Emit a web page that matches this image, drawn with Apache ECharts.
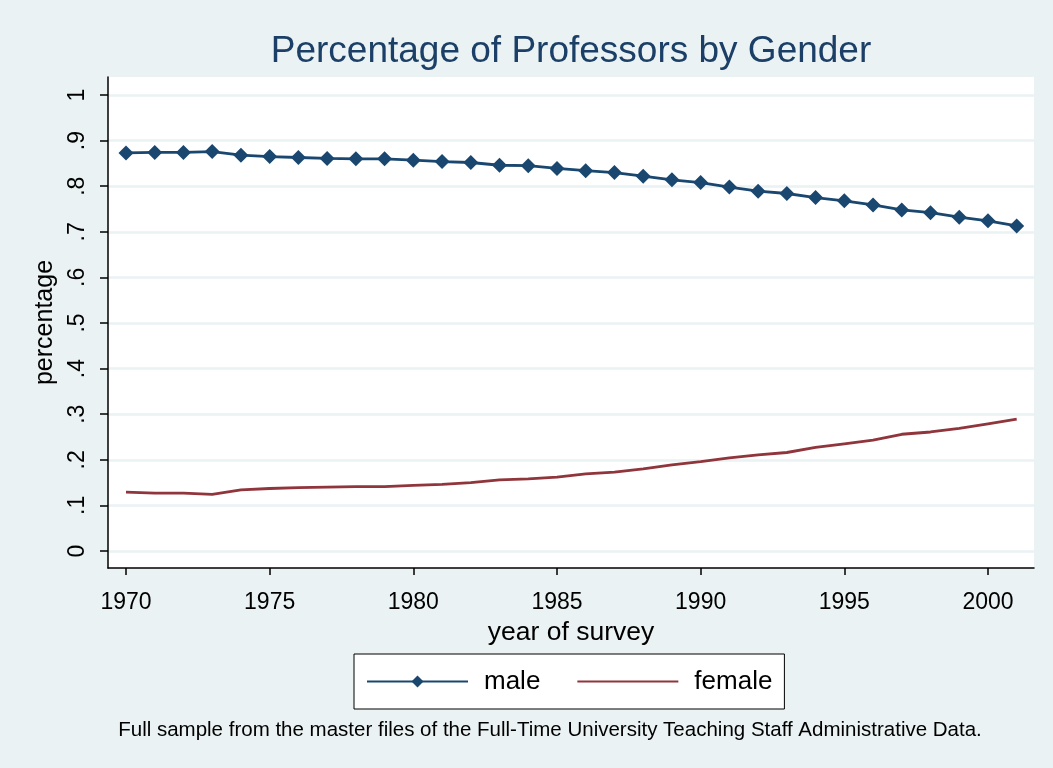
<!DOCTYPE html>
<html>
<head>
<meta charset="utf-8">
<title>Percentage of Professors by Gender</title>
<script src="https://cdn.jsdelivr.net/npm/echarts@6/dist/echarts.min.js"></script>
<style>
  html, body { margin: 0; padding: 0; background: #eaf2f3; }
  #chart { width: 1053px; height: 768px; }
</style>
</head>
<body>
<div id="chart"></div>
<script>
// survey years
const years = [1970, 1971, 1972, 1973, 1974, 1975, 1976, 1977, 1978, 1979,
  1980, 1981, 1982, 1983, 1984, 1985, 1986, 1987, 1988, 1989,
  1990, 1991, 1992, 1993, 1994, 1995, 1996, 1997, 1998, 1999, 2000, 2001]

// share of professors
const male = [0.873, 0.874, 0.874, 0.876, 0.868, 0.865, 0.863, 0.861, 0.860, 0.860,
  0.857, 0.854, 0.852, 0.846, 0.845, 0.839, 0.834, 0.830, 0.822, 0.814,
  0.808, 0.798, 0.789, 0.784, 0.775, 0.768, 0.759, 0.748, 0.742, 0.732, 0.724, 0.713]
const female = [0.129, 0.127, 0.127, 0.124, 0.134, 0.137, 0.139, 0.140, 0.141, 0.141,
  0.144, 0.146, 0.150, 0.156, 0.158, 0.162, 0.169, 0.173, 0.180, 0.189,
  0.196, 0.204, 0.211, 0.216, 0.227, 0.235, 0.243, 0.256, 0.261, 0.269, 0.279, 0.289]

// tick labels
const xTicks = [1970, 1975, 1980, 1985, 1990, 1995, 2000]
const yTicks = [0, 0.1, 0.2, 0.3, 0.4, 0.5, 0.6, 0.7, 0.8, 0.9, 1]

const font = '"Liberation Sans", Arial, Helvetica, sans-serif'
const navy = '#1a476f'
const maroon = '#90353b'

const chart = echarts.init(document.getElementById('chart'))

// stata style labels: 0, .1, .2 ... 1
const fmtY = (v) => {
  if (v === 0) return '0'
  if (v === 1) return '1'
  return String(Math.round(v * 10) / 10).replace(/^0\./, '.')
}

const option = {
  backgroundColor: '#eaf2f3',
  textStyle: { fontFamily: font },
  title: [
    {
      text: 'Percentage of Professors by Gender',
      left: 571,
      top: 33,
      padding: 0,
      textAlign: 'center',
      textStyle: { fontFamily: font, fontSize: 37, fontWeight: 'normal', color: '#1b3f66' }
    },
    {
      text: 'Full sample from the master files of the Full-Time University Teaching Staff Administrative Data.',
      left: 550,
      top: 720,
      padding: 0,
      textAlign: 'center',
      textStyle: { fontFamily: font, fontSize: 20.5, fontWeight: 'normal', color: '#000' }
    }
  ],
  legend: {
    left: 354,
    top: 654,
    padding: [13, 12, 13, 12],
    itemWidth: 101,
    itemHeight: 15,
    itemGap: 36,
    backgroundColor: '#fff',
    borderColor: '#000',
    borderWidth: 1,
    borderRadius: 0,
    textStyle: { fontFamily: font, fontSize: 26, color: '#000', lineHeight: 29, padding: [0, 0, 0, 11] },
    data: [
      'male',
      // no marker on the female key, only the line
      { name: 'female', itemStyle: { color: 'rgba(0,0,0,0)', borderColor: 'rgba(0,0,0,0)', borderWidth: 0 } }
    ]
  },
  grid: {
    left: 108,
    right: 19,
    top: 77,
    bottom: 200,
    show: true,
    backgroundColor: '#fff',
    borderWidth: 0,
    outerBoundsMode: 'none'
  },
  xAxis: {
    type: 'value',
    min: 1969.3735,
    max: 2001.602,
    name: 'year of survey',
    nameLocation: 'middle',
    nameGap: 44,
    nameTextStyle: { fontFamily: font, fontSize: 26.5, color: '#000' },
    axisLine: { show: true, onZero: false, lineStyle: { color: '#000', width: 1.5 } },
    axisTick: { show: true, length: 7, lineStyle: { color: '#000', width: 1.5 }, customValues: xTicks },
    axisLabel: {
      customValues: xTicks,
      margin: 23,
      fontFamily: font,
      fontSize: 23,
      color: '#000',
      formatter: (v) => String(v)
    },
    splitLine: { show: false }
  },
  yAxis: {
    type: 'value',
    min: -0.0373,
    max: 1.0395,
    name: 'percentage',
    nameLocation: 'middle',
    nameGap: 46,
    nameTextStyle: { fontFamily: font, fontSize: 25, color: '#000' },
    axisLine: { show: true, onZero: false, lineStyle: { color: '#000', width: 1.5 } },
    axisTick: { show: true, length: 8, lineStyle: { color: '#000', width: 1.5 }, customValues: yTicks },
    axisLabel: {
      customValues: yTicks,
      rotate: 90,
      margin: 19,
      fontFamily: font,
      fontSize: 23,
      color: '#000',
      formatter: fmtY
    },
    splitLine: { show: true, lineStyle: { color: '#eaf2f3', width: 2.5 } }
  },
  series: [
    {
      name: 'male',
      type: 'line',
      data: years.map((y, i) => [y, male[i]]),
      symbol: 'diamond',
      symbolSize: 15,
      showAllSymbol: true,
      color: navy,
      lineStyle: { color: navy, width: 2.8 },
      itemStyle: { color: navy },
      animation: false
    },
    {
      name: 'female',
      type: 'line',
      data: years.map((y, i) => [y, female[i]]),
      symbol: 'none',
      color: maroon,
      lineStyle: { color: maroon, width: 2.8 },
      itemStyle: { color: maroon },
      animation: false
    }
  ]
}

chart.setOption(option)
</script>
</body>
</html>
